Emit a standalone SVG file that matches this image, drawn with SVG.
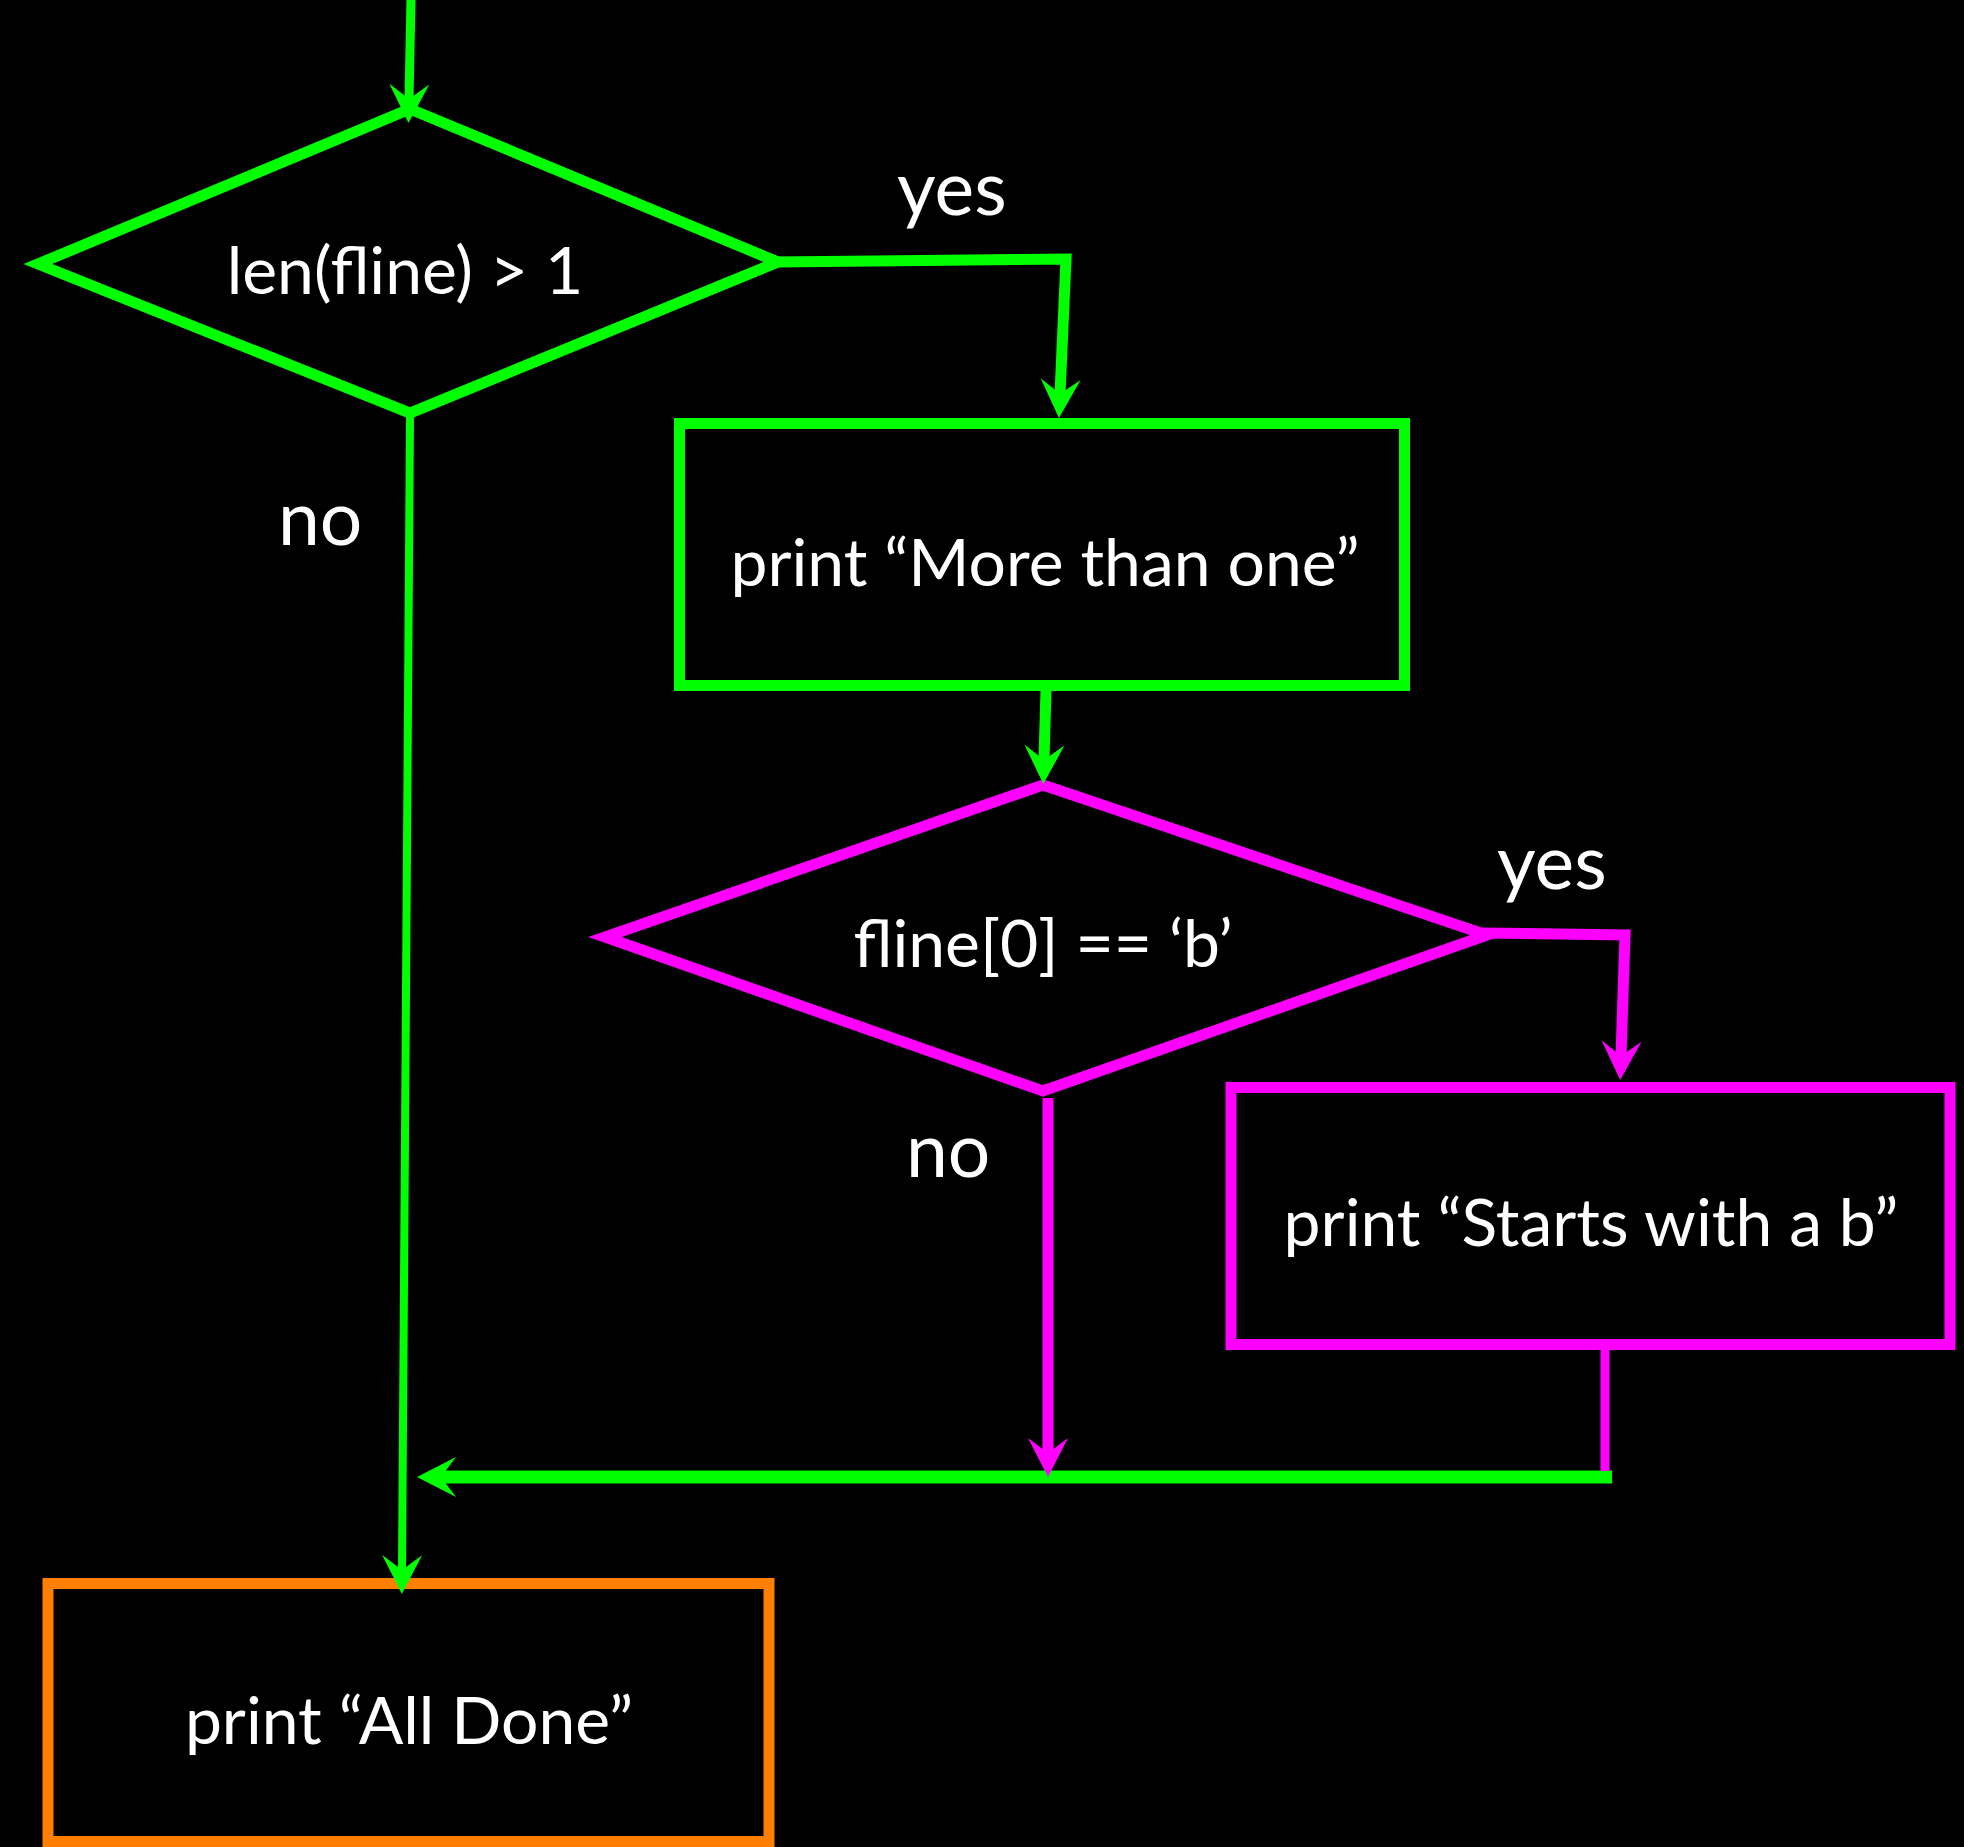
<svg xmlns="http://www.w3.org/2000/svg" width="1964" height="1847" viewBox="0 0 1964 1847">
<style>
.bg{fill:#000}
.node{fill:none;stroke-width:11;stroke-linejoin:miter}
.dia{fill:none;stroke-width:11;stroke-linejoin:miter;stroke-miterlimit:10}
.g{stroke:#00FF00}
.m{stroke:#FF00FF}
.o{stroke:#FF8000}
.t{font-family:Lato,"Open Sans","Liberation Sans",sans-serif;fill:#fff;font-size:66px;text-anchor:middle}
.lbl{font-family:Lato,"Open Sans","Liberation Sans",sans-serif;fill:#fff;font-size:75px}
.c{fill:none;stroke-linejoin:miter;stroke-linecap:butt}
</style>
<defs>
<marker id="ag" viewBox="0 -21 40 42" markerWidth="40" markerHeight="42" refX="15" refY="0" orient="auto" markerUnits="userSpaceOnUse">
<path d="M39,0 L0,-20 L15,0 L0,20 Z" fill="#00FF00"/>
</marker>
<marker id="am" viewBox="0 -21 40 42" markerWidth="40" markerHeight="42" refX="15" refY="0" orient="auto" markerUnits="userSpaceOnUse">
<path d="M39,0 L0,-20 L15,0 L0,20 Z" fill="#FF00FF"/>
</marker>
</defs>
<rect class="bg" x="0" y="0" width="1964" height="1847"/>

<g id="d1">
<polygon class="dia g" points="410,109 778,262 410,413 38,264"/>
<text class="t" x="405" y="294">len(fline) &gt; 1</text>
</g>
<g id="b1">
<rect class="node g" x="679.5" y="423.5" width="725" height="262"/>
<text class="t" x="1045" y="586">print “More than one”</text>
</g>
<g id="d2">
<polygon class="dia m" points="1043,785 1487,935 1043,1091 605,937"/>
<text class="t" x="1043" y="967">fline[0] == ‘b’</text>
</g>
<g id="b2">
<rect class="node m" x="1231" y="1087.5" width="719" height="257"/>
<text class="t" x="1591" y="1246">print “Starts with a b”</text>
</g>
<g id="b3">
<rect class="node o" x="48" y="1583.5" width="721" height="258"/>
<text class="t" x="409" y="1744">print “All Done”</text>
</g>

<g id="labels">
<text class="lbl" x="897" y="215">yes</text>
<text class="lbl" x="278" y="545">no</text>
<text class="lbl" x="1497" y="889">yes</text>
<text class="lbl" x="906" y="1177">no</text>
</g>

<g id="connectors">
<path class="c g" d="M411,0 L409,99" stroke-width="9" marker-end="url(#ag)"/>
<path class="c g" d="M776,262 L1066,259 L1060,394" stroke-width="11" marker-end="url(#ag)"/>
<path class="c g" d="M1046,690 L1044,760" stroke-width="11" marker-end="url(#ag)"/>
<path class="c g" d="M410,416 L402,1570" stroke-width="8" marker-end="url(#ag)"/>
<path class="c g" d="M1612,1477 L441,1477" stroke-width="13" marker-end="url(#ag)"/>
<path class="c m" d="M1482,933 L1625,935 L1621,1056" stroke-width="11" marker-end="url(#am)"/>
<path class="c m" d="M1048,1098 L1048,1453" stroke-width="11" marker-end="url(#am)"/>
<path class="c m" d="M1605,1350 L1605,1471" stroke-width="9"/>
</g>
</svg>
